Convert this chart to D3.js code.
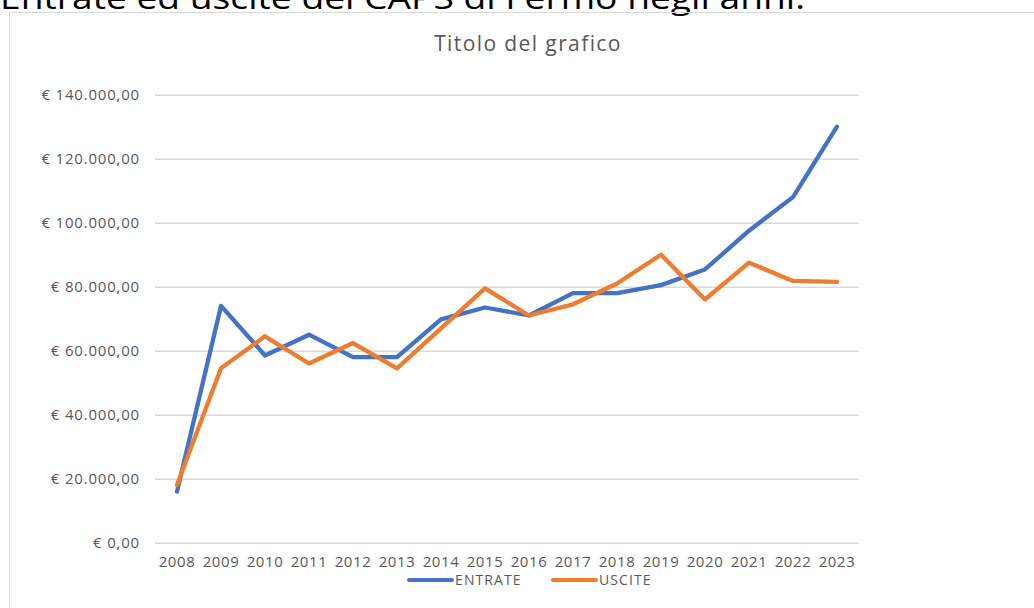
<!DOCTYPE html>
<html><head><meta charset="utf-8">
<script src="https://cdn.jsdelivr.net/npm/d3@7"></script>
<style>
html,body{margin:0;padding:0;background:#fff;overflow:hidden;}
svg{display:block;}
</style></head>
<body>
<svg id="chart" width="1034" height="608"></svg>
<script>
const years = ["2008","2009","2010","2011","2012","2013","2014","2015","2016","2017","2018","2019","2020","2021","2022","2023"];
const entrate = [16000, 74000, 58500, 65000, 58000, 58000, 69800, 73500, 71000, 78000, 78000, 80500, 85400, 97500, 108000, 130000];
const uscite  = [18000, 54500, 64500, 56000, 62400, 54500, 67000, 79500, 71000, 74500, 81000, 90000, 76000, 87500, 81800, 81500];
const yTicks = [0, 20000, 40000, 60000, 80000, 100000, 120000, 140000];
const seriesNames = ["ENTRATE", "USCITE"];
const seriesColors = ["#4472C4", "#ED7D31"];
const pageTitle = "Entrate ed uscite del CAPS di Fermo negli anni.";
const chartTitle = "Titolo del grafico";

const svg = d3.select("#chart");
const font = "'Open Sans', 'Noto Sans', sans-serif";

// page heading (partly above the visible area, as in the reference)
svg.append("text").attr("x", 0).attr("y", 8.5)
  .attr("font-family", font).attr("font-size", 31).attr("fill", "#000")
  .attr("textLength", 805).attr("lengthAdjust", "spacingAndGlyphs")
  .text(pageTitle);

// chart border
svg.append("rect").attr("x", 9.5).attr("y", 12.5).attr("width", 1100).attr("height", 700)
  .attr("fill", "none").attr("stroke", "#d9d9d9").attr("stroke-width", 1);

// title
svg.append("text").attr("x", 528).attr("y", 51)
  .attr("text-anchor", "middle").attr("font-family", font).attr("font-size", 21)
  .attr("fill", "#595959").attr("letter-spacing", 1.4).text(chartTitle);

const x = d3.scaleBand().domain(years).range([155, 859]);
const y = d3.scaleLinear().domain([0, 140000]).range([542.7, 94.7]);

const loc = d3.formatLocale({decimal: ",", thousands: ".", grouping: [3], currency: ["€ ", ""]});
const fmt = loc.format("$,.2f");

const gy = svg.append("g").attr("transform", "translate(155,0)")
  .call(d3.axisLeft(y).tickValues(yTicks).tickSize(-704).tickPadding(15).tickFormat(fmt));
gy.select(".domain").remove();
gy.selectAll(".tick line").attr("stroke", "#d9d9d9").attr("stroke-width", 1.5);
gy.selectAll(".tick text").attr("font-family", font).attr("font-size", 15)
  .attr("fill", "#595959").attr("letter-spacing", 0.8);

const gx = svg.append("g").attr("transform", "translate(0,542.7)")
  .call(d3.axisBottom(x).tickSize(0).tickPadding(14));
gx.select(".domain").remove();
gx.selectAll(".tick text").attr("font-family", font).attr("font-size", 15)
  .attr("fill", "#595959").attr("letter-spacing", 0.6);

const line = d3.line().x((d, i) => x(years[i]) + x.bandwidth() / 2).y(d => y(d));
[entrate, uscite].forEach((s, k) => {
  svg.append("path").datum(s).attr("d", line).attr("fill", "none")
    .attr("stroke", seriesColors[k]).attr("stroke-width", 4.3)
    .attr("stroke-linejoin", "round").attr("stroke-linecap", "round");
});

// legend
const legendX = [409, 553];
seriesNames.forEach((n, k) => {
  const g = svg.append("g").attr("transform", `translate(${legendX[k]},580)`);
  g.append("line").attr("x1", 0).attr("x2", 43).attr("y1", 0).attr("y2", 0)
    .attr("stroke", seriesColors[k]).attr("stroke-width", 4).attr("stroke-linecap", "round");
  g.append("text").attr("x", 46).attr("y", 5).attr("font-family", font).attr("font-size", 14)
    .attr("fill", "#595959").attr("letter-spacing", 1.1).text(n);
});
</script>
</body></html>
